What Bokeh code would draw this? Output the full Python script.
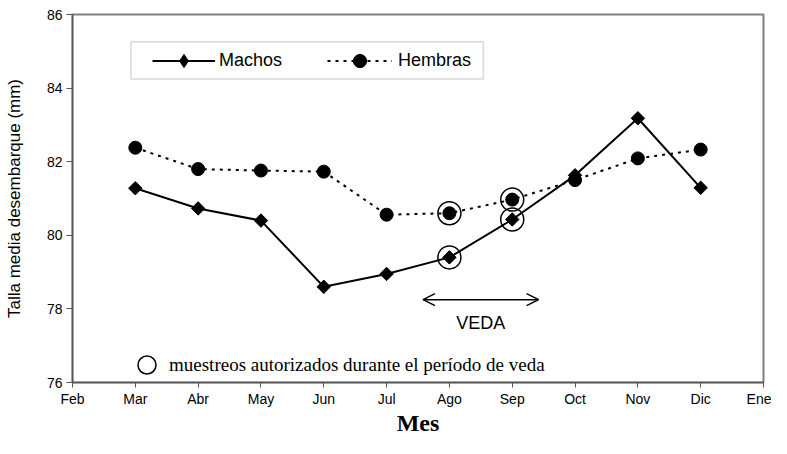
import numpy as np
from bokeh.plotting import figure
from bokeh.models import (Legend, LegendItem, FixedTicker, Arrow, OpenHead, Label,
                          BoxAnnotation, Range1d)
from bokeh.embed import file_html
from bokeh.resources import INLINE

# ---- data ----
axis_months = ["Feb", "Mar", "Abr", "May", "Jun", "Jul", "Ago", "Sep", "Oct", "Nov", "Dic", "Ene"]
data_months = ["Mar", "Abr", "May", "Jun", "Jul", "Ago", "Sep", "Oct", "Nov", "Dic"]
machos = [81.28, 80.73, 80.40, 78.60, 78.95, 79.40, 80.43, 81.63, 83.18, 81.29]
hembras = [82.38, 81.80, 81.76, 81.73, 80.56, 80.60, 80.97, 81.50, 82.09, 82.33]
veda_months = ["Ago", "Sep"]
y_ticks = [76, 78, 80, 82, 84, 86]

pos = {m: i for i, m in enumerate(axis_months)}
x = [pos[m] for m in data_months]
vx = [pos[m] for m in veda_months]
hl_x = vx + vx
hl_y = [machos[data_months.index(m)] for m in veda_months] + \
       [hembras[data_months.index(m)] for m in veda_months]

SANS = "Liberation Sans"
SERIF = "Liberation Serif"

p = figure(width=771, height=438, output_backend="svg", toolbar_location=None,
           x_range=Range1d(0, 11), y_range=Range1d(76, 86),
           min_border_left=72, min_border_right=8, min_border_top=14, min_border_bottom=52)
p.xgrid.visible = False
p.ygrid.visible = False
p.outline_line_color = "#808080"
p.outline_line_width = 2
p.background_fill_color = "white"
p.border_fill_color = "white"

p.xaxis.ticker = FixedTicker(ticks=list(range(len(axis_months))))
p.xaxis.major_label_overrides = {i: m for i, m in enumerate(axis_months)}
p.yaxis.ticker = FixedTicker(ticks=y_ticks)
for ax in (p.xaxis[0], p.yaxis[0]):
    ax.axis_line_color = "#555555"
    ax.axis_line_width = 1.5
    ax.major_tick_line_color = "#555555"
    ax.major_tick_in = 0
    ax.major_tick_out = 6
    ax.minor_tick_line_color = None
    ax.major_label_text_font = SANS
    ax.major_label_text_font_size = "14px"
    ax.major_label_text_color = "black"
    ax.major_label_standoff = 4
    ax.axis_label_text_color = "black"

p.xaxis.axis_label = "Mes"
p.xaxis.axis_label_text_font = SERIF
p.xaxis.axis_label_text_font_style = "bold"
p.xaxis.axis_label_text_font_size = "24px"
p.xaxis.axis_label_standoff = 0
p.xaxis.major_tick_out = 5
p.xaxis.major_label_standoff = 3

p.yaxis.axis_label = "Talla media desembarque (mm)"
p.yaxis.axis_label_text_font = SANS
p.yaxis.axis_label_text_font_style = "normal"
p.yaxis.axis_label_text_font_size = "17px"
p.yaxis.axis_label_standoff = 20

# ---- series ----
lm = p.line(x, machos, line_color="black", line_width=2)
# diamond used for the key; hidden underneath the rotated squares in the plot
sm_key = p.scatter(x, machos, marker="diamond", size=12, fill_color="black", line_color="black")
sm = p.scatter(x, machos, marker="square", angle=np.pi / 4, size=9.5,
               fill_color="black", line_color="black")
lh = p.line(x, hembras, line_color="black", line_width=2, line_dash="3 5")
sh = p.scatter(x, hembras, marker="circle", size=13, fill_color="black", line_color="black")

hl = p.scatter(hl_x, hl_y, marker="circle", size=23, fill_color=None,
               line_color="black", line_width=1.5)

# ---- veda arrow and label ----
arrow_x = [5.58, 7.42]
arrow_y = 78.25
p.add_layout(Arrow(start=OpenHead(size=12, line_width=1.5), end=OpenHead(size=12, line_width=1.5),
                   x_start=arrow_x[0], y_start=arrow_y, x_end=arrow_x[1], y_end=arrow_y,
                   line_width=1.5, line_color="black"))
p.add_layout(Label(x=sum(vx) / 2, y=77.63, text="VEDA", text_align="center",
                   text_baseline="middle", text_font=SANS, text_font_size="18px",
                   text_color="black"))

# ---- legend box ----
p.add_layout(BoxAnnotation(left=0.93, right=6.54, top=85.26, bottom=84.25,
                           fill_color=None, line_color="#808080", line_width=1.5))

def mk_legend(items, loc, gw, gh, font, size, standoff):
    lg = Legend(items=items, location=loc, glyph_width=gw, glyph_height=gh,
                padding=0, margin=0, spacing=0, label_standoff=standoff,
                background_fill_alpha=0, border_line_alpha=0,
                label_text_font=font, label_text_font_size=size,
                label_text_color="black", orientation="horizontal")
    p.add_layout(lg, "center")
    return lg

mk_legend([LegendItem(label="Machos", renderers=[lm, sm_key])], (80, 305), 63, 33, SANS, "18px", 4)
mk_legend([LegendItem(label="Hembras", renderers=[lh, sh])], (255, 305), 65, 33, SANS, "18px", 6)
mk_legend([LegendItem(label="muestreos autorizados durante el período de veda", renderers=[hl])],
          (52, -5), 45, 45, SERIF, "19px", -2)

open("out.html", "w").write(file_html(p, INLINE))
